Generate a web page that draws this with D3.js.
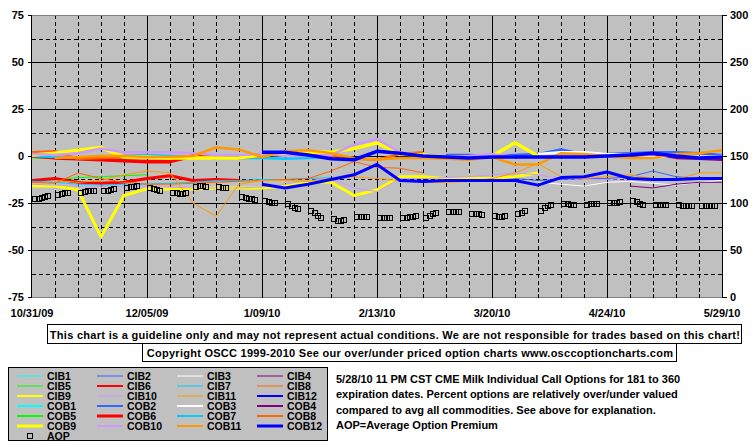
<!DOCTYPE html>
<html>
<head>
<meta charset="UTF-8">
<style>
  body { margin: 0; background: #fff; }
  text { font-family: "Liberation Sans", Arial, sans-serif; font-weight: bold; font-size: 11px; }
  .legend text { font-size: 10.5px; }
</style>
</head>
<body>
<svg></svg>
<script src="https://d3js.org/d3.v7.min.js"></script>
<script>

const width = 755, height = 446;

// weekly samples from 10/31/09, null = contract not listed
const _ = null;
const startDate = new Date(2009, 9, 31);
const endDate = new Date(2010, 4, 29);
const majorDates = ["10/31/09", "12/05/09", "1/09/10", "2/13/10", "3/20/10", "4/24/10", "5/29/10"];
const leftTicks = [-75, -50, -25, 0, 25, 50, 75];
const rightTicks = [0, 50, 100, 150, 200, 250, 300];
const minorLevels = [-62.5, -37.5, -12.5, 12.5, 37.5, 62.5];

const cib1 = [];
const cib2 = [_,_,_,_,_,_,_,_,_,_,_,_,_,_,_,_,_,_, -12, -12.5, -12.5, -12, -13, -12.5, -12, -12, -11, -8, -11, -12, -12.5];
const cib3 = [_,_,_,_,_,_,_,_,_,_,_,_,_,_,_,_,_,_,_,_,_,_, -14, -15, -16, -14, -13.5, -14.5, -15.5, -14, -13];
const cib4 = [_,_,_,_,_,_,_,_,_,_,_,_,_,_,_,_,_,_,_,_,_,_,_,_,_,_, -16, -17, -15, -14, -14];
const cib5 = [-13.5, -12.5, -11.5, -11, -10.5, -10];
const cib6 = [-13, -12, -14, -14.5, -14, -12, -10.5, -13, -12.5, -13];
const cib7 = [-13.5, -14, -15, -15.5, -15, -15, -14.5, -14, -13, -13, -12.5, -12.5, -12, -11.5];
const cib8 = [-14, -14.5, -9, -12, -14, -15, -15, -14.5, -14, -13.5, -13, -12.5, -12, -8, -3, -6, -6.5, -9];
const cib9 = [-16, -16, -18, -43, -21, -17.5, -17.5, -17.5, -17, -17, -17, -16, -13.5, -14, -21, -18, -11, -11, -12, -12, -12, -11, -9];
const cib10 = [-15, -15.5, -16, -16, -16, -16, -16.5, -17, -17, -17, -16.5, -15, -13, -12, -17, -19, -12, -12, -11.5, -11, -10, -9, -10, -12, -12.5, -12.5, -13];
const cib11 = [_, -13, -14, -13, -10, -8, -9, -25, -32, -15, -13, -13, -13.5, -12, -11, -12, -13, -14, -14, -13.5, -12, -9, -4, -11, -12, -11, -10, -12, -12.5, -9, -9];
const cib12 = [_,_,_,_,_,_,_,_,_,_, -15, -17, -15, -12.5, -10, -4.5, -13, -13.5, -13, -13, -13, -13, -15.5, -11.5, -11, -8.5, -12, -12.5, -12.5, -12, -12];

const cob1 = [];
const cob2 = [_,_,_,_,_,_,_,_,_,_,_,_,_,_,_,_,_,_, 0.5, 0.5, 0, 0.5, 1, 3.5, 1, 1, 1.5, 2, 2, 1.5, 0.5];
const cob3 = [_,_,_,_,_,_,_,_,_,_,_,_,_,_,_,_,_,_,_,_,_,_, 1, 2, 2, 1, 0.5, 0, -0.5, -0.5, 0];
const cob4 = [_,_,_,_,_,_,_,_,_,_,_,_,_,_,_,_,_,_,_,_,_,_,_,_,_,_, 0.5, 1, -1, -1.5, -2];
const cob5 = [-0.5, -1, -1.5, -2, -1.8];
const cob6 = [0, -1, -1.5, -2, -2.5, -3, -3, 0, -1];
const cob7 = [0, -0.5, -1, -0.5, 0, 0.5, 0, -0.5, -1, -1, -1, -1.5, -1, -0.5];
const cob8 = [2, 2.5, -1.5, -1, -0.5, -1, -1, -0.5, -0.5, -1, 0, 1, 1.5, 0, -1.5, -2, 1, 2];
const cob9 = [0.5, 1.5, 3, 4.5, -0.5, -0.5, -1, -1, -1, -1, 0.5, 1.5, 2, 2, 4, 7, 1, 0.5, -0.5, -1, 0, 7, 0];
const cob10 = [1, 0.5, 1.5, 4, 2, 2, 2, 1.5, 0.5, 0.5, 1, 0, 0, 0.5, 6, 9, 2, 0, -0.5, 0, 1, -0.5, -1, 0, 0.5, 0, -0.5];
const cob11 = [_, -1, -0.5, 0, 0, -0.5, -0.5, 0, 4.5, 3.5, -0.5, 2.5, 3, 1.5, -1, -2, -1, -1, -1.5, -2, -0.5, -4.5, -4.5, 1.5, 1, 0, -1, -1, 1, 1.5, 3];
const cob12 = [_,_,_,_,_,_,_,_,_,_, 2, 2, 0.5, -1.5, -2, 2.5, 1.5, 0, -0.5, -1, -0.5, -0.5, -0.5, -0.5, -0.5, 0, 0.5, 1.5, 0, -1, -0.5];

// average option premium (right axis), one group of trading days per week
const aop = [
  [104, 104, 105, 106, 107], [109, 110, 111, 111], [111, 112, 113, 113, 113], [113, 113, 114, 115],
  [116, 117, 117, 118], [116, 115, 114, 113], [111, 111, 110, 110, 111], [117, 118, 118, 117],
  [117, 116, 116], [106, 105, 104, 104, 103], [102, 101, 100, 100], [99, 97, 95, 94],
  [92, 89, 86, 84], [83, 81, 81, 82], [85, 85, 85, 85], [84, 84, 84, 84],
  [84, 84, 85, 85, 86], [84, 86, 88, 89], [90, 90, 90, 90], [88, 88, 88, 87],
  [86, 85, 85, 86], [88, 89, 91], [92, 95, 97, 98], [99, 99, 98, 98],
  [98, 99, 99, 99], [100, 100, 100, 101], [102, 101, 99, 98], [98, 98, 98, 98],
  [98, 97, 97, 97, 97], [97, 97, 97, 97, 97]
];

const monthColors = ["#00FFFF", "#3366FF", "#FFFFFF", "#800080", "#00FF00", "#FF0000",
                     "#00CCFF", "#FF6600", "#FFFF00", "#CC99FF", "#FF9900", "#0000FF"];
// line widths on the chart and in the legend
const cibWidths = [1, 1, 1, 1, 1, 3, 1, 1, 3, 1, 1, 3];
const cobWidths = [2.5, 2.5, 2.5, 2.5, 2.5, 3.5, 2.5, 2.5, 3.5, 2.5, 2.5, 3.5];
const cibKeyWidths = [1, 1, 1, 1, 1, 2, 1, 1, 2, 1, 1, 2];
const cobKeyWidths = [2, 2, 2, 2, 2, 3, 2, 2, 3, 2, 2, 3];

const cibData = [cib1, cib2, cib3, cib4, cib5, cib6, cib7, cib8, cib9, cib10, cib11, cib12];
const cobData = [cob1, cob2, cob3, cob4, cob5, cob6, cob7, cob8, cob9, cob10, cob11, cob12];

let series = [];
cibData.forEach((v, i) => series.push({name: "CIB" + (i + 1), values: v, color: monthColors[i], w: cibWidths[i], kw: cibKeyWidths[i]}));
cobData.forEach((v, i) => series.push({name: "COB" + (i + 1), values: v, color: monthColors[i], w: cobWidths[i], kw: cobKeyWidths[i]}));

let svg = d3.select("svg").attr("width", width).attr("height", height);

const plot = {left: 32, right: 722, top: 15, bottom: 297};

let x = d3.scaleTime().domain([startDate, endDate]).range([plot.left, plot.right]);
let yL = d3.scaleLinear().domain([-75, 75]).range([plot.bottom, plot.top]);
let yR = d3.scaleLinear().domain([0, 300]).range([plot.bottom, plot.top]);

const parseDate = d3.timeParse("%m/%d/%y");
const weekDate = i => d3.timeDay.offset(startDate, 7 * i);

// plot background
svg.append("rect")
  .attr("x", plot.left).attr("y", plot.top)
  .attr("width", plot.right - plot.left).attr("height", plot.bottom - plot.top)
  .attr("fill", "#C0C0C0");

svg.append("defs").append("clipPath").attr("id", "clip")
  .append("rect")
  .attr("x", plot.left).attr("y", plot.top)
  .attr("width", plot.right - plot.left).attr("height", plot.bottom - plot.top);

// grid
let grid = svg.append("g").attr("shape-rendering", "crispEdges");
let weeks = d3.timeDay.range(startDate, endDate, 7).slice(1);
let majors = majorDates.map(parseDate);

grid.selectAll(".vminor")
  .data(weeks.filter(d => !majors.some(m => +m === +d)))
  .enter().append("line")
  .attr("x1", d => Math.round(x(d)) + 0.5).attr("x2", d => Math.round(x(d)) + 0.5)
  .attr("y1", plot.top).attr("y2", plot.bottom)
  .attr("stroke", "black").attr("stroke-dasharray", "4,3");

grid.selectAll(".hminor")
  .data(minorLevels)
  .enter().append("line")
  .attr("x1", plot.left).attr("x2", plot.right)
  .attr("y1", d => Math.round(yL(d)) + 0.5).attr("y2", d => Math.round(yL(d)) + 0.5)
  .attr("stroke", "black").attr("stroke-dasharray", "4,3");

grid.selectAll(".vmajor")
  .data(majors.slice(1, -1))
  .enter().append("line")
  .attr("x1", d => Math.round(x(d)) + 0.5).attr("x2", d => Math.round(x(d)) + 0.5)
  .attr("y1", plot.top).attr("y2", plot.bottom)
  .attr("stroke", "black");

grid.selectAll(".hmajor")
  .data(leftTicks.slice(1, -1))
  .enter().append("line")
  .attr("x1", plot.left).attr("x2", plot.right)
  .attr("y1", d => Math.round(yL(d)) + 0.5).attr("y2", d => Math.round(yL(d)) + 0.5)
  .attr("stroke", "black");

// frame: grey top and bottom, black axes
grid.append("line").attr("x1", plot.left).attr("x2", plot.right)
  .attr("y1", plot.top + 0.5).attr("y2", plot.top + 0.5).attr("stroke", "#808080");
grid.append("line").attr("x1", plot.left).attr("x2", plot.right)
  .attr("y1", plot.bottom + 0.5).attr("y2", plot.bottom + 0.5).attr("stroke", "#808080");
grid.append("line").attr("x1", plot.left - 0.5).attr("x2", plot.left - 0.5)
  .attr("y1", plot.top).attr("y2", plot.bottom + 1).attr("stroke", "black");
grid.append("line").attr("x1", plot.right + 0.5).attr("x2", plot.right + 0.5)
  .attr("y1", plot.top).attr("y2", plot.bottom + 1).attr("stroke", "black");

// bottom ticks pointing up
grid.selectAll(".xtick")
  .data(weeks.concat([endDate]))
  .enter().append("line")
  .attr("x1", d => Math.round(x(d)) + 0.5).attr("x2", d => Math.round(x(d)) + 0.5)
  .attr("y1", plot.bottom - 3).attr("y2", plot.bottom + 1)
  .attr("stroke", "black");

// left and right ticks
grid.selectAll(".ltick").data(leftTicks).enter().append("line")
  .attr("x1", plot.left - 4).attr("x2", plot.left)
  .attr("y1", d => Math.round(yL(d)) + 0.5).attr("y2", d => Math.round(yL(d)) + 0.5)
  .attr("stroke", "black");
grid.selectAll(".rtick").data(rightTicks).enter().append("line")
  .attr("x1", plot.right).attr("x2", plot.right + 5)
  .attr("y1", d => Math.round(yR(d)) + 0.5).attr("y2", d => Math.round(yR(d)) + 0.5)
  .attr("stroke", "black");

// axis labels
svg.selectAll(".llab").data(leftTicks).enter().append("text")
  .attr("x", 24).attr("y", d => yL(d) + 4)
  .attr("text-anchor", "end").text(d => d);
svg.selectAll(".rlab").data(rightTicks).enter().append("text")
  .attr("x", 730).attr("y", d => yR(d) + 4)
  .text(d => d);
svg.selectAll(".xlab").data(majorDates).enter().append("text")
  .attr("x", d => x(parseDate(d))).attr("y", 317)
  .attr("text-anchor", "middle").text(d => d);

// series lines
let line = d3.line()
  .defined(d => d != null)
  .x((d, i) => x(weekDate(i)))
  .y(d => yL(d));

svg.append("g").attr("clip-path", "url(#clip)")
  .selectAll("path")
  .data(series.filter(s => s.values.length))
  .enter().append("path")
  .attr("d", s => line(s.values))
  .attr("fill", "none")
  .attr("stroke", s => s.color)
  .attr("stroke-width", s => s.w)
  .attr("stroke-linejoin", "round");

// AOP squares
let aopPoints = [];
aop.forEach((wk, k) => wk.forEach((v, j) => aopPoints.push({date: d3.timeDay.offset(startDate, 7 * k + j + 1), v: v})));

svg.append("g").selectAll("rect")
  .data(aopPoints)
  .enter().append("rect")
  .attr("x", d => Math.round(x(d.date)) - 2.5)
  .attr("y", d => Math.round(yR(d.v)) - 2.5)
  .attr("width", 5).attr("height", 5)
  .attr("fill", "none").attr("stroke", "black");

// disclaimer boxes
let notes = [
  {text: "This chart is a guideline only and may not represent actual conditions. We are not responsible for trades based on this chart!", x0: 47, x1: 741, y0: 324, y1: 343, ls: 0.29},
  {text: "Copyright OSCC 1999-2010 See our over/under priced option charts www.osccoptioncharts.com", x0: 142, x1: 676, y0: 343, y1: 361, ls: 0.26}
];
notes.forEach(n => {
  svg.append("rect")
    .attr("x", n.x0 + 0.5).attr("y", n.y0 + 0.5)
    .attr("width", n.x1 - n.x0).attr("height", n.y1 - n.y0)
    .attr("fill", "white").attr("stroke", "black");
  svg.append("text")
    .attr("x", (n.x0 + n.x1) / 2 + 1).attr("y", (n.y0 + n.y1) / 2 + 5)
    .attr("text-anchor", "middle")
    .style("letter-spacing", n.ls + "px")
    .text(n.text);
});

// legend
let legend = svg.append("g").attr("class", "legend");
legend.append("rect")
  .attr("x", 8.5).attr("y", 367.5).attr("width", 319).attr("height", 73)
  .attr("fill", "#C0C0C0").attr("stroke", "black");

series.forEach((s, i) => {
  let col = i % 4, row = Math.floor(i / 4);
  let lx = 17 + col * 80, ly = 376 + row * 10;
  legend.append("line")
    .attr("x1", lx).attr("x2", lx + 26).attr("y1", ly).attr("y2", ly)
    .attr("stroke", s.color).attr("stroke-width", s.kw);
  legend.append("text").attr("x", lx + 30).attr("y", ly + 4).text(s.name);
});
legend.append("rect").attr("x", 27.5).attr("y", 433.5).attr("width", 5).attr("height", 5)
  .attr("fill", "none").attr("stroke", "black");
legend.append("text").attr("x", 47).attr("y", 440).text("AOP");

// description
let desc = [
  "5/28/10 11 PM CST CME Milk Individual Call Options for 181 to 360",
  "expiration dates. Percent options are relatively over/under valued",
  "compared to avg all commodities. See above for explanation.",
  "AOP=Average Option Premium"
];
svg.selectAll(".desc").data(desc).enter().append("text")
  .attr("x", 336).attr("y", (d, i) => 383 + i * 15.3)
  .text(d => d);

</script>
</body>
</html>
